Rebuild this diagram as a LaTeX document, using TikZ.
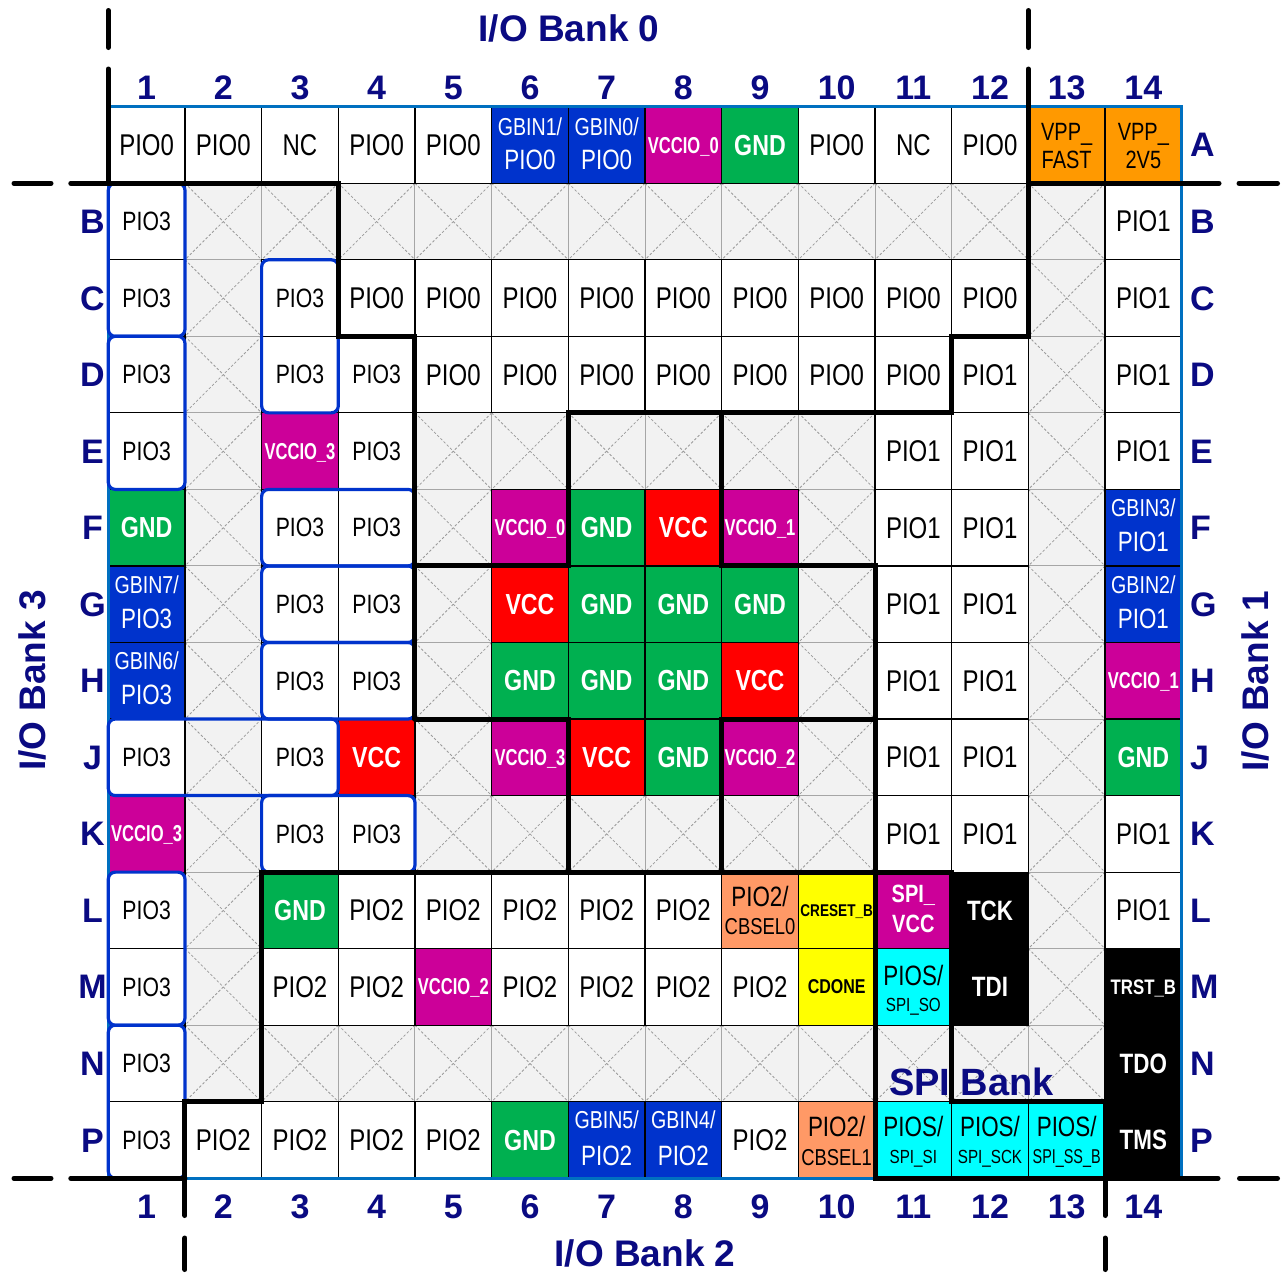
\documentclass[tikz,border=0pt]{standalone}
\usepackage{fontspec}
\setmainfont{Liberation Sans}[FakeStretch=0.8]
\newfontfamily\narrowf{Liberation Sans}[FakeStretch=0.72]
\newfontfamily\labf{Liberation Sans}
\newcommand\fs[1]{\fontsize{#1}{#1}\selectfont}
\newcommand\colx[1]{108.3+76.67*#1}
\newcommand\rowy[1]{106.7+76.54*#1}
\definecolor{cgreen}{HTML}{00B050}
\definecolor{cred}{HTML}{FF0000}
\definecolor{cmag}{HTML}{CC0099}
\definecolor{cblue}{HTML}{0033CC}
\definecolor{corange}{HTML}{FF9900}
\definecolor{csalmon}{HTML}{FF9966}
\definecolor{cyel}{HTML}{FFFF00}
\definecolor{ccyan}{HTML}{00FFFF}
\definecolor{cnavy}{HTML}{0A0A82}
\definecolor{cborder}{HTML}{0070C0}
\definecolor{cbox}{HTML}{0033CC}
\definecolor{cxfill}{HTML}{F2F2F2}
\definecolor{cxline}{HTML}{A6A6A6}
\definecolor{cxdiag}{HTML}{9A9A9A}
\tikzset{
  cell/.style={rectangle, draw=black, line width=1.2pt, minimum width=76.67pt,
    minimum height=76.54pt, inner sep=0pt, text depth=0pt},
  pw/.style={fill=white, font=\fs{30}},
  p3/.style={fill=white, font=\fs{26.5}},
  gnd/.style={fill=cgreen, text=white, font=\bfseries\fs{29}},
  vcc/.style={fill=cred, text=white, font=\bfseries\fs{29}},
  vio/.style={fill=cmag, text=white, font=\narrowf\bfseries\fs{23}},
  nc/.style={fill=cxfill, draw=cxline, line width=1pt,
    path picture={\draw[cxdiag, line width=0.8pt, dash pattern=on 2.5pt off 2pt]
      (path picture bounding box.north west) -- (path picture bounding box.south east)
      (path picture bounding box.north east) -- (path picture bounding box.south west);}},
  gb/.style={fill=cblue},
  org/.style={fill=corange},
  sal/.style={fill=csalmon},
  yel/.style={fill=cyel},
  cya/.style={fill=ccyan},
  blk/.style={fill=black, text=white, font=\bfseries\fs{28}},
  tl/.style={anchor=base, inner sep=0pt},
  gtop/.style={font=\fs{24.5}, text=white},
  gbot/.style={font=\fs{28}, text=white},
  lab/.style={text=cnavy, font=\labf\bfseries\fs{34}, inner sep=0pt},
  bank/.style={text=cnavy, font=\labf\bfseries\fs{37}, inner sep=0pt},
  bankline/.style={line width=5pt, line cap=round},
  rbox/.style={draw=cbox, line width=3.2pt, rounded corners=7pt},
}
\newcommand\pin[5]{\node[cell,#4] (#1) at ({108.3+(#2-0.5)*76.67},{106.7+(#3-0.5)*76.54}) {#5};}
\newcommand\tline[5]{\node[tl,#3] (#1) at ([yshift=#4]#2.center) {#5};}
\begin{document}
\begin{tikzpicture}[x=1pt,y=-1pt]
\useasboundingbox (0,0) rectangle (1281,1272);
\fill[white] (0,0) rectangle (1281,1272);

% ---------- unused (X) pins ----------
\foreach \c in {2,...,13} {\pin{B\c}{\c}{2}{nc}{}}
\foreach \r/\L in {3/C,4/D,11/L,12/M} {\pin{\L2}{2}{\r}{nc}{}\pin{\L13}{13}{\r}{nc}{}}
\foreach \r/\L in {5/E,6/F,7/G,8/H,9/J,10/K} {\pin{\L2}{2}{\r}{nc}{}\pin{\L13}{13}{\r}{nc}{}}
\foreach \c in {5,...,10} {\pin{E\c}{\c}{5}{nc}{}\pin{K\c}{\c}{10}{nc}{}}
\foreach \r/\L in {6/F,7/G,8/H,9/J} {\pin{\L5}{5}{\r}{nc}{}\pin{\L10}{10}{\r}{nc}{}}
\foreach \c in {2,...,13} {\pin{N\c}{\c}{13}{nc}{}}

% ---------- row A ----------
\pin{A1}{1}{1}{pw}{PIO0}
\pin{A2}{2}{1}{pw}{PIO0}
\pin{A3}{3}{1}{pw}{NC}
\pin{A4}{4}{1}{pw}{PIO0}
\pin{A5}{5}{1}{pw}{PIO0}
\pin{A6}{6}{1}{gb}{}
\tline{A6a}{A6}{gtop}{9.7pt}{GBIN1/}
\tline{A6b}{A6}{gbot}{-24.3pt}{PIO0}
\pin{A7}{7}{1}{gb}{}
\tline{A7a}{A7}{gtop}{9.7pt}{GBIN0/}
\tline{A7b}{A7}{gbot}{-24.3pt}{PIO0}
\pin{A8}{8}{1}{vio}{VCCIO\_0}
\pin{A9}{9}{1}{gnd}{GND}
\pin{A10}{10}{1}{pw}{PIO0}
\pin{A11}{11}{1}{pw}{NC}
\pin{A12}{12}{1}{pw}{PIO0}
\pin{A13}{13}{1}{org}{}
\tline{A13a}{A13}{font=\fs{25}}{4pt}{VPP\_}
\tline{A13b}{A13}{font=\fs{25}}{-23.3pt}{FAST}
\pin{A14}{14}{1}{org}{}
\tline{A14a}{A14}{font=\fs{25}}{4pt}{VPP\_}
\tline{A14b}{A14}{font=\fs{25}}{-23.3pt}{2V5}

% ---------- row B ----------
\pin{B1}{1}{2}{p3}{PIO3}
\pin{B14}{14}{2}{pw}{PIO1}

% ---------- row C ----------
\pin{C1}{1}{3}{p3}{PIO3}
\pin{C3}{3}{3}{p3}{PIO3}
\foreach \c in {4,...,12} {\pin{C\c}{\c}{3}{pw}{PIO0}}
\pin{C14}{14}{3}{pw}{PIO1}

% ---------- row D ----------
\pin{D1}{1}{4}{p3}{PIO3}
\pin{D3}{3}{4}{p3}{PIO3}
\pin{D4}{4}{4}{p3}{PIO3}
\foreach \c in {5,...,11} {\pin{D\c}{\c}{4}{pw}{PIO0}}
\pin{D12}{12}{4}{pw}{PIO1}
\pin{D14}{14}{4}{pw}{PIO1}

% ---------- row E ----------
\pin{E1}{1}{5}{p3}{PIO3}
\pin{E3}{3}{5}{vio}{VCCIO\_3}
\pin{E4}{4}{5}{p3}{PIO3}
\pin{E11}{11}{5}{pw}{PIO1}
\pin{E12}{12}{5}{pw}{PIO1}
\pin{E14}{14}{5}{pw}{PIO1}

% ---------- row F ----------
\pin{F1}{1}{6}{gnd}{GND}
\pin{F3}{3}{6}{p3}{PIO3}
\pin{F4}{4}{6}{p3}{PIO3}
\pin{F6}{6}{6}{vio}{VCCIO\_0}
\pin{F7}{7}{6}{gnd}{GND}
\pin{F8}{8}{6}{vcc}{VCC}
\pin{F9}{9}{6}{vio}{VCCIO\_1}
\pin{F11}{11}{6}{pw}{PIO1}
\pin{F12}{12}{6}{pw}{PIO1}
\pin{F14}{14}{6}{gb}{}
\tline{F14a}{F14}{gtop}{11pt}{GBIN3/}
\tline{F14b}{F14}{gbot}{-24pt}{PIO1}

% ---------- row G ----------
\pin{G1}{1}{7}{gb}{}
\tline{G1a}{G1}{gtop}{11pt}{GBIN7/}
\tline{G1b}{G1}{gbot}{-24pt}{PIO3}
\pin{G3}{3}{7}{p3}{PIO3}
\pin{G4}{4}{7}{p3}{PIO3}
\pin{G6}{6}{7}{vcc}{VCC}
\pin{G7}{7}{7}{gnd}{GND}
\pin{G8}{8}{7}{gnd}{GND}
\pin{G9}{9}{7}{gnd}{GND}
\pin{G11}{11}{7}{pw}{PIO1}
\pin{G12}{12}{7}{pw}{PIO1}
\pin{G14}{14}{7}{gb}{}
\tline{G14a}{G14}{gtop}{11pt}{GBIN2/}
\tline{G14b}{G14}{gbot}{-24pt}{PIO1}

% ---------- row H ----------
\pin{H1}{1}{8}{gb}{}
\tline{H1a}{H1}{gtop}{11pt}{GBIN6/}
\tline{H1b}{H1}{gbot}{-24pt}{PIO3}
\pin{H3}{3}{8}{p3}{PIO3}
\pin{H4}{4}{8}{p3}{PIO3}
\pin{H6}{6}{8}{gnd}{GND}
\pin{H7}{7}{8}{gnd}{GND}
\pin{H8}{8}{8}{gnd}{GND}
\pin{H9}{9}{8}{vcc}{VCC}
\pin{H11}{11}{8}{pw}{PIO1}
\pin{H12}{12}{8}{pw}{PIO1}
\pin{H14}{14}{8}{vio}{VCCIO\_1}

% ---------- row J ----------
\pin{J1}{1}{9}{p3}{PIO3}
\pin{J3}{3}{9}{p3}{PIO3}
\pin{J4}{4}{9}{vcc}{VCC}
\pin{J6}{6}{9}{vio}{VCCIO\_3}
\pin{J7}{7}{9}{vcc}{VCC}
\pin{J8}{8}{9}{gnd}{GND}
\pin{J9}{9}{9}{vio}{VCCIO\_2}
\pin{J11}{11}{9}{pw}{PIO1}
\pin{J12}{12}{9}{pw}{PIO1}
\pin{J14}{14}{9}{gnd}{GND}

% ---------- row K ----------
\pin{K1}{1}{10}{vio}{VCCIO\_3}
\pin{K3}{3}{10}{p3}{PIO3}
\pin{K4}{4}{10}{p3}{PIO3}
\pin{K11}{11}{10}{pw}{PIO1}
\pin{K12}{12}{10}{pw}{PIO1}
\pin{K14}{14}{10}{pw}{PIO1}

% ---------- row L ----------
\pin{L1}{1}{11}{p3}{PIO3}
\pin{L3}{3}{11}{gnd}{GND}
\foreach \c in {4,...,8} {\pin{L\c}{\c}{11}{pw}{PIO2}}
\pin{L9}{9}{11}{sal}{}
\tline{L9a}{L9}{font=\fs{28}}{3.7pt}{PIO2/}
\tline{L9b}{L9}{font=\fs{23}}{-24.6pt}{CBSEL0}
\pin{L10}{10}{11}{yel}{}
\node[font=\bfseries\fs{17}, inner sep=0pt, text depth=0pt] (L10t) at (L10.center) {CRESET\_B};
\pin{L11}{11}{11}{fill=cmag}{}
\tline{L11a}{L11}{font=\bfseries\fs{25},text=white}{7.4pt}{SPI\_}
\tline{L11b}{L11}{font=\bfseries\fs{25},text=white}{-22.6pt}{VCC}
\pin{L12}{12}{11}{blk}{TCK}
\pin{L14}{14}{11}{pw}{PIO1}

% ---------- row M ----------
\pin{M1}{1}{12}{p3}{PIO3}
\pin{M3}{3}{12}{pw}{PIO2}
\pin{M4}{4}{12}{pw}{PIO2}
\pin{M5}{5}{12}{vio}{VCCIO\_2}
\foreach \c in {6,...,9} {\pin{M\c}{\c}{12}{pw}{PIO2}}
\pin{M10}{10}{12}{yel,font=\bfseries\fs{20}}{CDONE}
\pin{M11}{11}{12}{cya}{}
\tline{M11a}{M11}{font=\fs{28}}{1.9pt}{PIOS/}
\tline{M11b}{M11}{font=\fs{19}}{-24.8pt}{SPI\_SO}
\pin{M12}{12}{12}{blk}{TDI}

% ---------- column 14, rows M-P (black) ----------
\pin{M14}{14}{12}{blk,font=\bfseries\fs{21}}{TRST\_B}
\pin{N14}{14}{13}{blk}{TDO}
\pin{P14}{14}{14}{blk}{TMS}

% ---------- row N ----------
\pin{N1}{1}{13}{p3}{PIO3}

% ---------- row P ----------
\pin{P1}{1}{14}{p3}{PIO3}
\foreach \c in {2,...,5} {\pin{P\c}{\c}{14}{pw}{PIO2}}
\pin{P6}{6}{14}{gnd}{GND}
\pin{P7}{7}{14}{gb}{}
\tline{P7a}{P7}{gtop}{12pt}{GBIN5/}
\tline{P7b}{P7}{gbot}{-25pt}{PIO2}
\pin{P8}{8}{14}{gb}{}
\tline{P8a}{P8}{gtop}{12pt}{GBIN4/}
\tline{P8b}{P8}{gbot}{-25pt}{PIO2}
\pin{P9}{9}{14}{pw}{PIO2}
\pin{P10}{10}{14}{sal}{}
\tline{P10a}{P10}{font=\fs{28}}{3.3pt}{PIO2/}
\tline{P10b}{P10}{font=\fs{23}}{-25pt}{CBSEL1}
\pin{P11}{11}{14}{cya}{}
\tline{P11a}{P11}{font=\fs{28}}{3.3pt}{PIOS/}
\tline{P11b}{P11}{font=\fs{19}}{-23.3pt}{SPI\_SI}
\pin{P12}{12}{14}{cya}{}
\tline{P12a}{P12}{font=\fs{28}}{3.3pt}{PIOS/}
\tline{P12b}{P12}{font=\fs{19}}{-23.3pt}{SPI\_SCK}
\pin{P13}{13}{14}{cya}{}
\tline{P13a}{P13}{font=\fs{28}}{3.3pt}{PIOS/}
\tline{P13b}{P13}{font=\narrowf\fs{20}}{-23.3pt}{SPI\_SS\_B}

% ---------- outer package border ----------
\draw[cborder, line width=3pt] ({\colx{0}},{\rowy{0}}) rectangle ({\colx{14}},{\rowy{14}});

% ---------- rounded groups ----------
\draw[rbox] ({\colx{0}},{\rowy{1}}) rectangle ({\colx{1}},{\rowy{3}});
\draw[rbox] ({\colx{0}},{\rowy{3}}) rectangle ({\colx{1}},{\rowy{5}});
\draw[rbox] ({\colx{2}},{\rowy{2}}) rectangle ({\colx{3}},{\rowy{4}});
\draw[rbox] ({\colx{2}},{\rowy{5}}) rectangle ({\colx{4}},{\rowy{6}});
\draw[rbox] ({\colx{2}},{\rowy{6}}) rectangle ({\colx{4}},{\rowy{7}});
\draw[rbox] ({\colx{2}},{\rowy{7}}) rectangle ({\colx{4}},{\rowy{8}});
\draw[rbox] ({\colx{0}},{\rowy{8}}) rectangle ({\colx{3}},{\rowy{9}});
\draw[rbox] ({\colx{2}},{\rowy{9}}) rectangle ({\colx{4}},{\rowy{10}});
\draw[rbox] ({\colx{0}},{\rowy{10}}) rectangle ({\colx{1}},{\rowy{12}});
\draw[rbox] ({\colx{0}},{\rowy{12}}) rectangle ({\colx{1}},{\rowy{14}});

% ---------- bank boundaries ----------
% bank 0 / bank 3
\draw[bankline] ({\colx{0}},10.5) -- ({\colx{0}},47.5);
\draw[bankline] (14,{\rowy{1}}) -- (51,{\rowy{1}});
\draw[bankline] (70.8,{\rowy{1}}) -- ({\colx{0}},{\rowy{1}});
\draw[bankline] ({\colx{0}},69) -- ({\colx{0}},{\rowy{1}}) -- ({\colx{3}},{\rowy{1}})
  -- ({\colx{3}},{\rowy{3}}) -- ({\colx{4}},{\rowy{3}}) -- ({\colx{4}},{\rowy{8}});
% bank 0 / core / bank 1
\draw[bankline] ({\colx{4}},{\rowy{6}}) -- ({\colx{6}},{\rowy{6}}) -- ({\colx{6}},{\rowy{4}})
  -- ({\colx{11}},{\rowy{4}}) -- ({\colx{11}},{\rowy{3}}) -- ({\colx{12}},{\rowy{3}}) -- ({\colx{12}},69);
\draw[bankline] ({\colx{12}},10.5) -- ({\colx{12}},47.5);
\draw[bankline] ({\colx{12}},{\rowy{1}}) -- (1219,{\rowy{1}});
\draw[bankline] (1239,{\rowy{1}}) -- (1277.5,{\rowy{1}});
% bank 1 / bank 2
\draw[bankline] ({\colx{8}},{\rowy{4}}) -- ({\colx{8}},{\rowy{6}}) -- ({\colx{10}},{\rowy{6}})
  -- ({\colx{10}},{\rowy{14}}) -- (1218,{\rowy{14}});
\draw[bankline] (1239.5,{\rowy{14}}) -- (1277.5,{\rowy{14}});
% core lower edges
\draw[bankline] ({\colx{4}},{\rowy{8}}) -- ({\colx{6}},{\rowy{8}}) -- ({\colx{6}},{\rowy{10}});
\draw[bankline] ({\colx{10}},{\rowy{8}}) -- ({\colx{8}},{\rowy{8}}) -- ({\colx{8}},{\rowy{10}});
% bank 3 / bank 2
\draw[bankline] ({\colx{10}},{\rowy{10}}) -- ({\colx{2}},{\rowy{10}}) -- ({\colx{2}},{\rowy{13}})
  -- ({\colx{1}},{\rowy{13}}) -- ({\colx{1}},1215.5);
\draw[bankline] ({\colx{1}},1238) -- ({\colx{1}},1269.5);
\draw[bankline] (14,{\rowy{14}}) -- (51,{\rowy{14}});
\draw[bankline] (70.8,{\rowy{14}}) -- ({\colx{1}},{\rowy{14}});
% SPI bank
\draw[bankline] ({\colx{10}},{\rowy{10}}) -- ({\colx{11}},{\rowy{10}}) -- ({\colx{11}},{\rowy{13}})
  -- ({\colx{13}},{\rowy{13}}) -- ({\colx{13}},1215.5);
\draw[bankline] ({\colx{13}},1238) -- ({\colx{13}},1269.5);

% ---------- labels ----------
\foreach \c in {1,...,14} {
  \node[lab,anchor=base] (ct\c) at ({108.3+(\c-0.5)*76.67},99) {\c};
  \node[lab,anchor=base] (cb\c) at ({108.3+(\c-0.5)*76.67},1218) {\c};
}
\foreach \r/\L in {2/B,3/C,4/D,5/E,6/F,7/G,8/H,9/J,10/K,11/L,12/M,13/N,14/P} {
  \node[lab,anchor=base] (rl\L) at (92.5,{106.7+(\r-0.5)*76.54+12}) {\L};
}
\foreach \r/\L in {1/A,2/B,3/C,4/D,5/E,6/F,7/G,8/H,9/J,10/K,11/L,12/M,13/N,14/P} {
  \node[lab,anchor=base west] (rr\L) at (1190,{106.7+(\r-0.5)*76.54+12}) {\L};
}
\node[bank,anchor=base] (bank0) at (569,41.7) {I/O Bank 0};
\node[bank,anchor=base] (bank2) at (645,1266) {I/O Bank 2};
\node[bank,anchor=base,rotate=90] (bank3) at (45,680.5) {I/O Bank 3};
\node[bank,anchor=base,rotate=90] (bank1) at (1268,681) {I/O Bank 1};
\node[bank,anchor=base,font=\labf\bfseries\fs{38}] (spibank) at (971.5,1095) {SPI Bank};
\end{tikzpicture}
\end{document}
